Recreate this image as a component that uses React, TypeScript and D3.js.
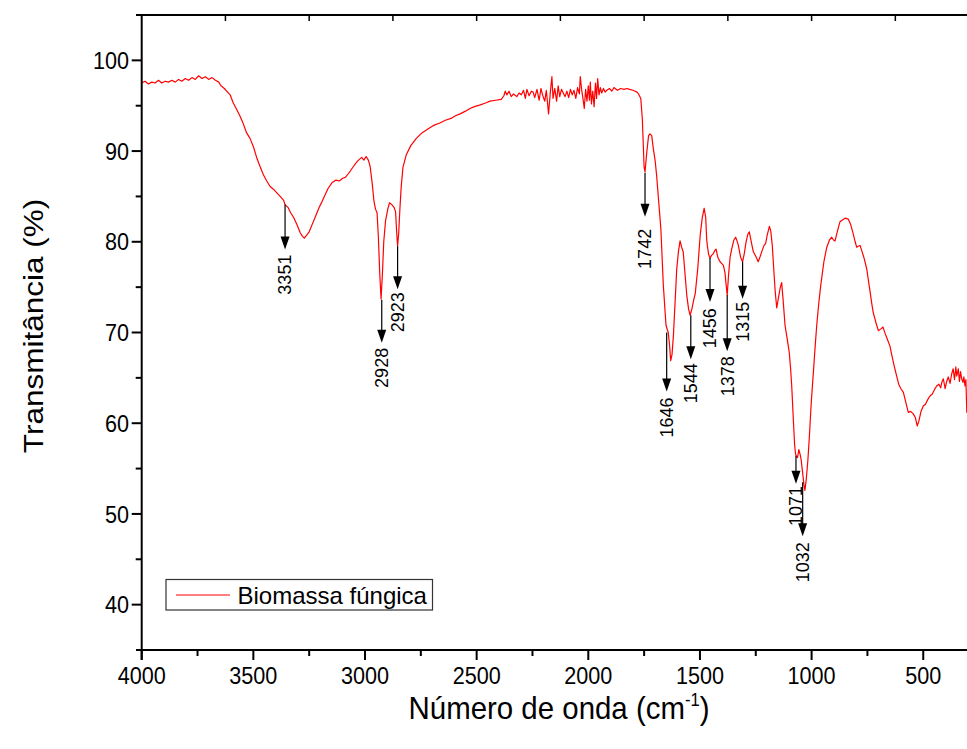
import React from 'react';
import * as d3 from 'd3';

// Spectrum (wavenumber in cm-1, transmittance in %)
const wavenumber = [
  4000, 3985, 3970, 3955, 3940, 3925, 3910, 3895, 3880, 3865, 3850, 3835, 3820, 3805, 3790, 3775, 3760, 3745, 3730, 3715,
  3700, 3685, 3670, 3655, 3645, 3630, 3615, 3604, 3590, 3575, 3559, 3545, 3530, 3515, 3500, 3484, 3470, 3455, 3440, 3425,
  3410, 3395, 3380, 3365, 3358, 3345, 3333, 3320, 3305, 3290, 3280, 3272, 3262, 3250, 3235, 3220, 3205, 3193, 3180, 3165,
  3148, 3130, 3115, 3100, 3088, 3075, 3066, 3052, 3040, 3029, 3015, 3005, 2995, 2985, 2977, 2968, 2960, 2953, 2946, 2940,
  2934, 2928, 2922, 2916, 2908, 2898, 2890, 2880, 2870, 2863, 2858, 2854, 2849, 2844, 2838, 2830, 2815, 2795, 2770, 2745,
  2720, 2695, 2665, 2640, 2615, 2595, 2574, 2550, 2530, 2510, 2484, 2460, 2440, 2415, 2390, 2378, 2372, 2365, 2355, 2345,
  2335, 2320, 2310, 2300, 2290, 2282, 2275, 2265, 2255, 2247, 2240, 2230, 2220, 2212, 2205, 2195, 2188, 2178, 2170, 2163,
  2158, 2150, 2142, 2135, 2128, 2120, 2112, 2104, 2096, 2088, 2080, 2072, 2064, 2056, 2048, 2040, 2036, 2030, 2024, 2018,
  2012, 2006, 2000, 1995, 1991, 1986, 1980, 1974, 1968, 1963, 1958, 1952, 1946, 1940, 1932, 1925, 1917, 1905, 1895, 1885,
  1870, 1855, 1840, 1827, 1815, 1800, 1790, 1782, 1775, 1765, 1758, 1750, 1746, 1738, 1730, 1724, 1716, 1709, 1700, 1694,
  1685, 1675, 1664, 1652, 1646, 1642, 1636, 1631, 1625, 1619, 1611, 1604, 1596, 1589, 1582, 1575, 1567, 1559, 1551, 1544,
  1536, 1528, 1521, 1510, 1499, 1490, 1481, 1474, 1470, 1467, 1461, 1455, 1448, 1440, 1434, 1428, 1420, 1410, 1402, 1395,
  1388, 1383, 1378, 1372, 1365, 1358, 1348, 1340, 1334, 1328, 1318, 1309, 1302, 1294, 1286, 1279, 1272, 1261, 1250, 1239,
  1230, 1222, 1213, 1206, 1199, 1189, 1183, 1176, 1170, 1163, 1156, 1148, 1140, 1134, 1127, 1119, 1110, 1100, 1094, 1089,
  1082, 1076, 1072, 1067, 1063, 1057, 1051, 1047, 1040, 1034, 1030, 1024, 1017, 1010, 1001, 992, 984, 977, 968, 959,
  945, 932, 920, 910, 902, 895, 884, 873, 862, 850, 836, 825, 815, 805, 798, 791, 783, 775, 765, 753,
  740, 730, 724, 712, 701, 690, 680, 671, 660, 649, 640, 630, 619, 610, 600, 589, 578, 567, 556, 544,
  535, 527, 520, 510, 500, 490, 480, 470, 460, 450, 440, 430, 422, 417, 410, 402, 395, 388, 380, 373,
  366, 360, 354, 350, 343, 338, 333, 328, 322, 318, 313, 309, 305, 295
];
const transmittance = [
  97.5, 97.7, 97.4, 97.6, 97.5, 97.8, 97.5, 97.7, 97.6, 97.8, 97.6, 97.9, 97.7, 98.0, 97.8, 98.1, 97.9, 98.3, 98.0, 98.2,
  97.9, 98.1, 97.8, 97.6, 97.2, 96.9, 96.5, 96.2, 95.3, 94.6, 93.8, 93.0, 92.0, 91.4, 90.5, 89.2, 88.3, 87.4, 86.7, 86.1,
  85.8, 85.4, 85.0, 84.6, 84.1, 83.8, 83.2, 82.7, 81.9, 81.0, 80.6, 80.4, 80.7, 81.1, 82.0, 82.9, 83.8, 84.4, 85.1, 85.9,
  86.5, 86.8, 86.7, 87.0, 87.1, 87.5, 87.8, 88.3, 88.7, 89.0, 89.3, 89.0, 89.4, 89.0, 88.3, 86.5, 84.5, 83.6, 83.2, 80.5,
  76.5, 73.7, 76.5, 80.0, 82.3, 83.6, 84.3, 84.1, 83.8, 83.3, 81.0, 79.5, 81.0, 83.5, 86.0, 88.2, 89.6, 90.6, 91.4, 92.0,
  92.4, 92.8, 93.1, 93.4, 93.6, 93.9, 94.1, 94.4, 94.7, 94.9, 95.1, 95.3, 95.5, 95.6, 95.7, 96.1, 96.6, 96.2, 96.6, 96.0,
  96.3, 96.0, 96.4, 96.2, 96.7, 95.8, 96.8, 96.1, 96.6, 96.5, 95.9, 96.8, 95.6, 96.9, 96.2, 95.5, 96.7, 94.1, 96.5, 98.2,
  95.8, 96.9, 95.5, 97.2, 96.0, 96.8, 96.4, 96.0, 96.6, 95.9, 96.8, 96.2, 96.7, 95.8, 97.0, 96.3, 98.2, 96.8, 95.8, 94.7,
  96.8, 95.5, 97.2, 95.6, 97.6, 95.2, 96.6, 94.9, 97.5, 95.8, 98.0, 96.2, 97.0, 96.4, 96.9, 96.5, 96.7, 96.9, 96.6, 97.0,
  96.7, 96.9, 96.8, 96.9, 96.8, 96.7, 96.6, 96.5, 96.3, 95.8, 93.5, 88.2, 87.7, 89.9, 91.7, 91.9, 91.7, 90.3, 88.8, 87.3,
  84.5, 81.4, 75.2, 70.8, 70.3, 70.0, 68.6, 66.9, 67.6, 69.6, 73.5, 77.0, 79.0, 80.1, 79.4, 78.9, 76.5, 74.1, 72.6, 71.9,
  72.6, 73.6, 74.3, 77.0, 80.7, 82.6, 83.7, 82.6, 80.3, 79.6, 78.6, 78.2, 78.5, 78.7, 79.0, 79.2, 78.3, 77.8, 77.6, 77.4,
  76.6, 75.3, 74.1, 76.3, 78.3, 79.2, 80.2, 80.5, 80.1, 79.6, 78.3, 77.8, 78.6, 79.9, 80.8, 81.1, 80.2, 78.9, 78.4, 77.8,
  78.4, 79.0, 79.6, 79.8, 80.7, 81.7, 81.2, 79.6, 77.2, 74.5, 72.7, 73.9, 75.0, 75.5, 73.4, 70.8, 69.4, 67.8, 66.0, 64.1,
  60.5, 57.6, 56.6, 56.3, 56.2, 57.1, 56.5, 56.0, 54.5, 53.2, 52.6, 53.8, 55.8, 58.5, 62.5, 65.6, 68.5, 70.8, 73.2, 75.2,
  77.8, 79.4, 80.2, 80.5, 80.2, 80.1, 81.2, 82.2, 82.4, 82.6, 82.5, 81.9, 81.0, 80.0, 79.4, 79.5, 79.6, 79.0, 78.2, 77.0,
  74.8, 73.1, 72.2, 71.1, 70.2, 70.4, 70.6, 69.9, 69.2, 68.5, 67.4, 66.3, 65.2, 64.3, 63.8, 63.4, 62.3, 61.2, 61.3, 61.0,
  60.6, 59.7, 60.2, 61.3, 61.9, 62.1, 62.6, 63.0, 63.2, 63.7, 64.1, 64.3, 63.9, 64.5, 64.9, 63.8, 64.6, 65.1, 64.4, 65.4,
  66.0, 64.8, 66.2, 65.2, 66.0, 64.6, 65.7, 64.9, 64.5, 65.1, 64.1, 64.8, 61.2, 61.0
];

// Tick values
const xTickValues = [4000, 3500, 3000, 2500, 2000, 1500, 1000, 500];
const xMinorTickValues = [3750, 3250, 2750, 2250, 1750, 1250, 750, 250];
const topTickValues = [3625, 3250, 2875, 2500, 2125, 1750, 1375, 1000, 625, 250];
const yTickValues = [40, 50, 60, 70, 80, 90, 100];
const yMinorTickValues = [45, 55, 65, 75, 85, 95];

// Peak annotations
const peakLabels = ['3351', '2928', '2923', '1742', '1646', '1544', '1456', '1378', '1315', '1071', '1032'];
const peakWavenumbers = [3358, 2925, 2854, 1746, 1649, 1541, 1455, 1378, 1309, 1070, 1040];
const peakValues = [84.1, 73.6, 79.5, 87.6, 70.0, 71.9, 78.2, 74.1, 77.8, 56.4, 53.5];

const seriesName = 'Biomassa fúngica';
const xTitle = 'Número de onda (cm';
const yTitle = 'Transmitância (%)';

// layout for annotation arrows (pixel lengths / gaps)
const arrowLen: Record<string, number> = {
  '3351': 45, '2928': 43, '2923': 43, '1742': 44, '1646': 59, '1544': 44,
  '1456': 44, '1378': 56, '1315': 37, '1071': 28, '1032': 54,
};
const labelGap: Record<string, number> = {
  '3351': 5, '2928': 5, '2923': 3, '1742': 12, '1646': 6, '1544': 4,
  '1456': 6, '1378': 5, '1315': 3, '1071': 2, '1032': 6,
};

export default function App() {
  const W = 967;
  const H = 749;
  const left = 141.7;
  const top = 15;
  const bottom = 650;
  const pxPerUnit = 0.2233;
  const x = d3.scaleLinear().domain([4000, 250]).range([left, left + 3750 * pxPerUnit]);
  const y = d3.scaleLinear().domain([35, 105]).range([bottom, top]);

  const line = d3
    .line<number>()
    .x((_, i) => x(wavenumber[i]))
    .y((d) => y(d))
    .curve(d3.curveLinear);

  const font = "'Liberation Sans', Arial, Helvetica, sans-serif";

  return (
    <svg
      width={W}
      height={H}
      style={{ position: 'absolute', left: 0, top: 0, background: '#fff' }}
      fontFamily={font}
    >
      <rect x={0} y={0} width={W} height={H} fill="#fff" />

      {/* spectrum */}
      <path d={line(transmittance) || ''} fill="none" stroke="#ff0000" strokeWidth={1.2} strokeLinejoin="round" />

      {/* annotations */}
      {peakLabels.map((lab, i) => {
        const px = x(peakWavenumbers[i]);
        const py = y(peakValues[i]);
        const tip = py + arrowLen[lab];
        const ty = tip + labelGap[lab];
        return (
          <g key={lab}>
            <line x1={px} x2={px} y1={py} y2={tip - 10} stroke="#000" strokeWidth={1.2} />
            <polygon points={`${px - 4.5},${tip - 13} ${px + 4.5},${tip - 13} ${px},${tip}`} fill="#000" />
            <text
              transform={`translate(${px},${ty}) rotate(-90)`}
              textAnchor="end"
              dy="0.35em"
              fontSize={18}
              fill="#000"
            >
              {lab}
            </text>
          </g>
        );
      })}

      {/* frame / axes */}
      <line x1={136} x2={W} y1={top} y2={top} stroke="#000" strokeWidth={2} />
      <line x1={136} x2={W} y1={bottom} y2={bottom} stroke="#000" strokeWidth={2} />
      <line x1={left} x2={left} y1={top - 1} y2={bottom + 10} stroke="#000" strokeWidth={2} />

      {/* top ticks */}
      {topTickValues.map((v) => (
        <line key={'tt' + v} x1={x(v)} x2={x(v)} y1={top} y2={top + 6} stroke="#000" strokeWidth={1.5} />
      ))}

      {/* bottom ticks */}
      {xTickValues.map((v) => (
        <g key={'xt' + v}>
          <line x1={x(v)} x2={x(v)} y1={bottom} y2={bottom + 10} stroke="#000" strokeWidth={2} />
          <text
            transform={`translate(${x(v)},684) scale(0.9,1)`}
            textAnchor="middle"
            fontSize={24}
            fill="#000"
          >
            {v}
          </text>
        </g>
      ))}
      {xMinorTickValues.map((v) => (
        <line key={'xm' + v} x1={x(v)} x2={x(v)} y1={bottom} y2={bottom + 6} stroke="#000" strokeWidth={2} />
      ))}

      {/* y ticks */}
      {yTickValues.map((v) => (
        <g key={'yt' + v}>
          <line x1={left - 10} x2={left} y1={y(v)} y2={y(v)} stroke="#000" strokeWidth={2} />
          <text
            transform={`translate(129,${y(v)}) scale(0.9,1)`}
            textAnchor="end"
            dy="0.36em"
            fontSize={24}
            fill="#000"
          >
            {v}
          </text>
        </g>
      ))}
      {yMinorTickValues.map((v) => (
        <line key={'ym' + v} x1={left - 6} x2={left} y1={y(v)} y2={y(v)} stroke="#000" strokeWidth={2} />
      ))}

      {/* axis titles */}
      <text transform="translate(559,719) scale(0.92,1)" textAnchor="middle" fontSize={32} fill="#000">
        {xTitle}
        <tspan dy={-13} fontSize={18}>-1</tspan>
        <tspan dy={13}>)</tspan>
      </text>
      <text
        transform="translate(33,326) scale(0.88,1) rotate(-90)"
        textAnchor="middle"
        dy="0.35em"
        fontSize={31.5}
        fill="#000"
      >
        {yTitle}
      </text>

      {/* legend */}
      <rect x={166} y={579.5} width={266.5} height={30.5} fill="#fff" stroke="#333" strokeWidth={1.2} />
      <line x1={176} x2={230} y1={595} y2={595} stroke="#ff0000" strokeWidth={1.2} />
      <text x={237.5} y={603.5} fontSize={24} fill="#000">
        {seriesName}
      </text>
    </svg>
  );
}
